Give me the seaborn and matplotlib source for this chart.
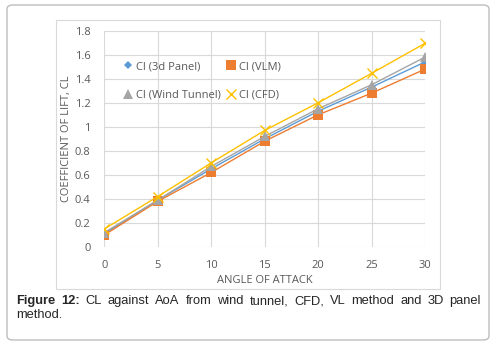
import numpy as np
import pandas as pd
import seaborn as sns
import matplotlib.pyplot as plt
from matplotlib.lines import Line2D
from matplotlib.patches import FancyBboxPatch, Rectangle

# data
angle = [0, 5, 10, 15, 20, 25, 30]
cl_panel = [0.11, 0.39, 0.65, 0.90, 1.13, 1.33, 1.54]
cl_vlm = [0.10, 0.38, 0.62, 0.88, 1.10, 1.28, 1.48]
cl_wind = [0.12, 0.39, 0.67, 0.92, 1.15, 1.35, 1.58]
cl_cfd = [0.15, 0.42, 0.70, 0.97, 1.20, 1.445, 1.695]

series_names = ['Cl (3d Panel)', 'Cl (VLM)', 'Cl (Wind Tunnel)', 'Cl (CFD)']
series_vals = [cl_panel, cl_vlm, cl_wind, cl_cfd]
colors = ['#5B9BD5', '#ED7D31', '#A5A5A5', '#FFC000']
markers = ['D', 's', '^', 'x']
msizes = [4.5, 6.5, 6.5, 6.5]

df = pd.concat([pd.DataFrame({'AoA': angle, 'CL': v, 'series': n})
                for n, v in zip(series_names, series_vals)])

sns.set_style('white')
plt.rcParams['font.family'] = ['Open Sans', 'DejaVu Sans']

fig = plt.figure(figsize=(4.93, 3.44), dpi=100)
W, H = 493, 344

# outer rounded frame and inner chart frame
fig.patches.append(FancyBboxPatch((7 / W, 4 / H), 482 / W, 335 / H,
                                  boxstyle='round,pad=0,rounding_size=0.012',
                                  transform=fig.transFigure, fc='none',
                                  ec='#BDBDBD', lw=1.0, zorder=-1))
fig.patches.append(Rectangle((56 / W, (H - 289) / H), 384 / W, 269 / H,
                             transform=fig.transFigure, fc='none',
                             ec='#D9D9D9', lw=0.8, zorder=-1))

ax = fig.add_axes([104.3 / W, (H - 247) / H, (425 - 104.3) / W, (247 - 30.7) / H])
ax.patch.set_alpha(0)

for name, c, m, ms in zip(series_names, colors, markers, msizes):
    sub = df[df['series'] == name]
    sns.lineplot(data=sub, x='AoA', y='CL', ax=ax, color=c, marker=m,
                 markersize=ms, markeredgecolor=c, markeredgewidth=1.0 if m == 'x' else 0,
                 linewidth=1.0, legend=False)

ax.set_xlim(0, 30)
ax.set_ylim(0, 1.8)
ax.set_xticks(angle)
ax.set_yticks(np.arange(0, 1.81, 0.2))
ax.set_yticklabels(['0', '0.2', '0.4', '0.6', '0.8', '1', '1.2', '1.4', '1.6', '1.8'])
ax.grid(True, color='#D9D9D9', linewidth=0.8)
ax.set_axisbelow(True)
for s in ax.spines.values():
    s.set_visible(False)
ax.tick_params(axis='both', length=0, labelsize=8, labelcolor='#595959')
ax.tick_params(axis='x', pad=9)
ax.tick_params(axis='y', pad=10)
ax.set_xlabel('ANGLE OF ATTACK', fontsize=8, color='#595959', labelpad=3)
ax.set_ylabel('COEFFICIENT OF LIFT, CL', fontsize=8, color='#595959', labelpad=2)

# legend: two rows, filled row by row as in the original
handles = [Line2D([], [], linestyle='none', marker=m, color=c, markersize=ms,
                  markeredgecolor=c, markeredgewidth=1.0 if m == 'x' else 0)
           for c, m, ms in zip(colors, markers, msizes)]
order = [0, 2, 1, 3]
leg = ax.legend([handles[i] for i in order], [series_names[i] for i in order],
                ncol=2, frameon=False, fontsize=8, labelcolor='#595959',
                loc='upper left', bbox_to_anchor=(0.03, 0.905),
                handlelength=0.8, handletextpad=0.3, columnspacing=0.5,
                labelspacing=1.55)

# caption, first line justified between x=16 and x=481
fig.canvas.draw()
r = fig.canvas.get_renderer()
words = [('Figure', 'bold'), ('12:', 'bold'), ('CL', 'normal'), ('against', 'normal'),
         ('AoA', 'normal'), ('from', 'normal'), ('wind', 'normal'), ('tunnel,', 'normal'),
         ('CFD,', 'normal'), ('VL', 'normal'), ('method', 'normal'), ('and', 'normal'),
         ('3D', 'normal'), ('panel', 'normal')]
fs = 9.3
y1 = (H - 301) / H
arts = [fig.text(0, y1, w, fontsize=fs, fontweight=fw, family='Liberation Sans',
                 va='center', ha='left') for w, fw in words]
widths = [a.get_window_extent(renderer=r).width for a in arts]
gap = (481 - 16 - sum(widths)) / (len(words) - 1)
x = 16
for a, wd in zip(arts, widths):
    a.set_x(x / W)
    x += wd + gap
fig.text(16 / W, (H - 315) / H, 'method.', fontsize=fs, family='Liberation Sans',
         va='center', ha='left')

fig.savefig('out.png', dpi=100)
